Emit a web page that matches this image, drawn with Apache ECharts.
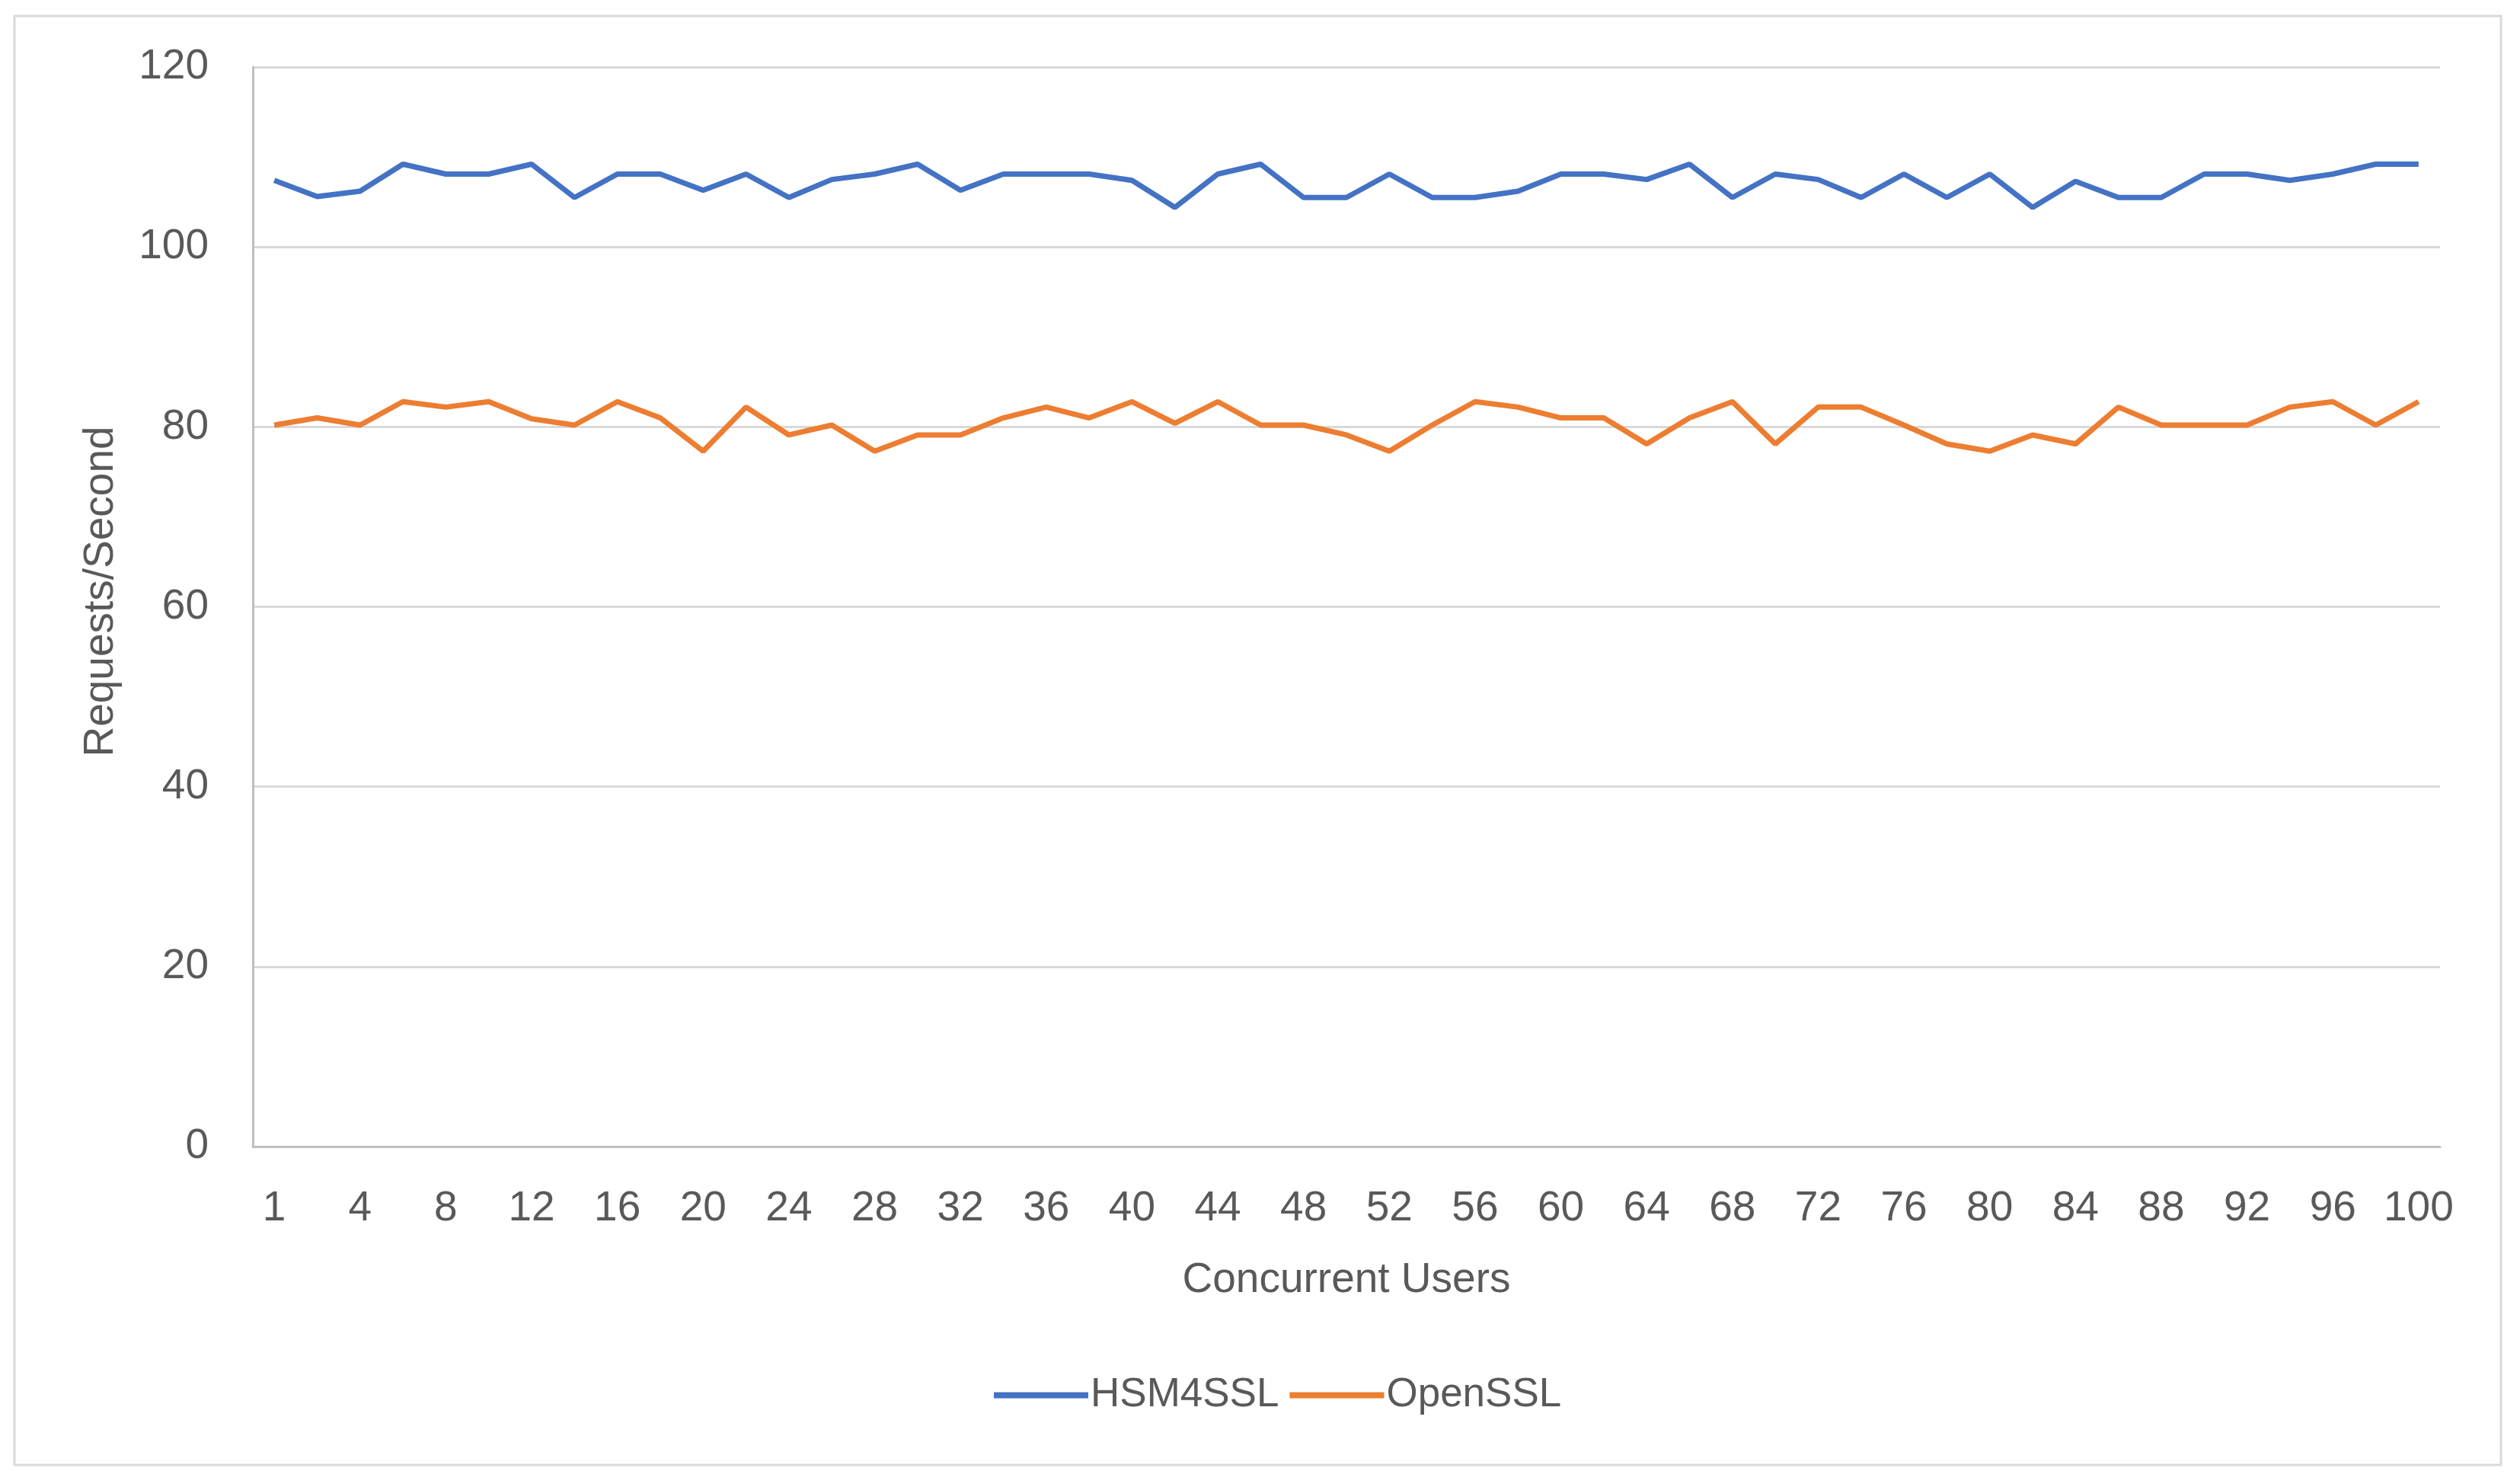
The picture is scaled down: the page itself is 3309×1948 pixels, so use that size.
<!DOCTYPE html>
<html>
<head>
<meta charset="utf-8">
<script src="https://cdn.jsdelivr.net/npm/echarts@6/dist/echarts.min.js"></script>
<style>
html,body{margin:0;padding:0;background:#fff;}
#chart{width:3309px;height:1948px;}
</style>
</head>
<body>
<div id="chart"></div>
<script>
const categories = [1,2,4,6,8,10,12,14,16,18,20,22,24,26,28,30,32,34,36,38,40,42,44,46,48,50,52,54,56,58,60,62,64,66,68,70,72,74,76,78,80,82,84,86,88,90,92,94,96,98,100];
const hsm4ssl = [107.4,105.6,106.2,109.2,108.1,108.1,109.2,105.5,108.1,108.1,106.3,108.1,105.5,107.5,108.1,109.2,106.3,108.1,108.1,108.1,107.4,104.4,108.1,109.2,105.5,105.5,108.1,105.5,105.5,106.2,108.1,108.1,107.5,109.2,105.5,108.1,107.5,105.5,108.1,105.5,108.1,104.4,107.3,105.5,105.5,108.1,108.1,107.4,108.1,109.2,109.2];
const openssl = [80.2,81.0,80.2,82.8,82.2,82.8,80.9,80.2,82.8,81.0,77.3,82.2,79.1,80.2,77.3,79.1,79.1,81.0,82.2,81.0,82.8,80.4,82.8,80.2,80.2,79.1,77.3,80.2,82.8,82.2,81.0,81.0,78.1,81.0,82.8,78.1,82.2,82.2,80.2,78.1,77.3,79.1,78.1,82.2,80.2,80.2,80.2,82.2,82.8,80.2,82.8];
const yTicks = {min: 0, max: 120, interval: 20};

const FONT = '"Liberation Sans", Arial, sans-serif';
const TXT = '#595959';
const chart = echarts.init(document.getElementById('chart'));
chart.setOption({
  backgroundColor: '#ffffff',
  animation: false,
  graphic: [{
    type: 'rect',
    shape: {x: 19, y: 21, width: 3265, height: 1902},
    style: {fill: 'none', stroke: '#d9d9d9', lineWidth: 3},
    silent: true, z: -10
  }],
  grid: {left: 332, right: 105, top: 88, bottom: 443, containLabel: false},
  legend: {
    data: ['HSM4SSL', 'OpenSSL'],
    left: 1300, top: 1800,
    itemWidth: 124, itemHeight: 8, itemGap: 14,
    icon: 'rect',
    textStyle: {fontFamily: FONT, fontSize: 53, color: TXT, padding: [0,0,0,-2]}
  },
  xAxis: {
    type: 'category',
    data: categories,
    boundaryGap: true,
    name: 'Concurrent Users',
    nameLocation: 'middle',
    nameGap: 148,
    nameTextStyle: {fontFamily: FONT, fontSize: 55, color: TXT},
    axisLine: {lineStyle: {color: '#bfbfbf', width: 3}},
    axisTick: {show: false},
    axisLabel: {interval: 1, fontFamily: FONT, fontSize: 55, color: TXT, margin: 54}
  },
  yAxis: {
    type: 'value',
    min: yTicks.min, max: yTicks.max, interval: yTicks.interval,
    name: 'Requests/Second',
    nameLocation: 'middle',
    nameGap: 172,
    nameRotate: 90,
    nameTextStyle: {fontFamily: FONT, fontSize: 55, color: TXT, padding: [0,0,0,40]},
    axisLine: {show: true, lineStyle: {color: '#bfbfbf', width: 3}},
    axisTick: {show: false},
    axisLabel: {fontFamily: FONT, fontSize: 55, color: TXT, margin: 58},
    splitLine: {lineStyle: {color: '#d9d9d9', width: 3}}
  },
  series: [
    {name: 'HSM4SSL', type: 'line', data: hsm4ssl, symbol: 'none',
     lineStyle: {color: '#4472C4', width: 7}, itemStyle: {color: '#4472C4'}},
    {name: 'OpenSSL', type: 'line', data: openssl, symbol: 'none',
     lineStyle: {color: '#ED7D31', width: 7}, itemStyle: {color: '#ED7D31'}}
  ]
});
</script>
</body>
</html>
